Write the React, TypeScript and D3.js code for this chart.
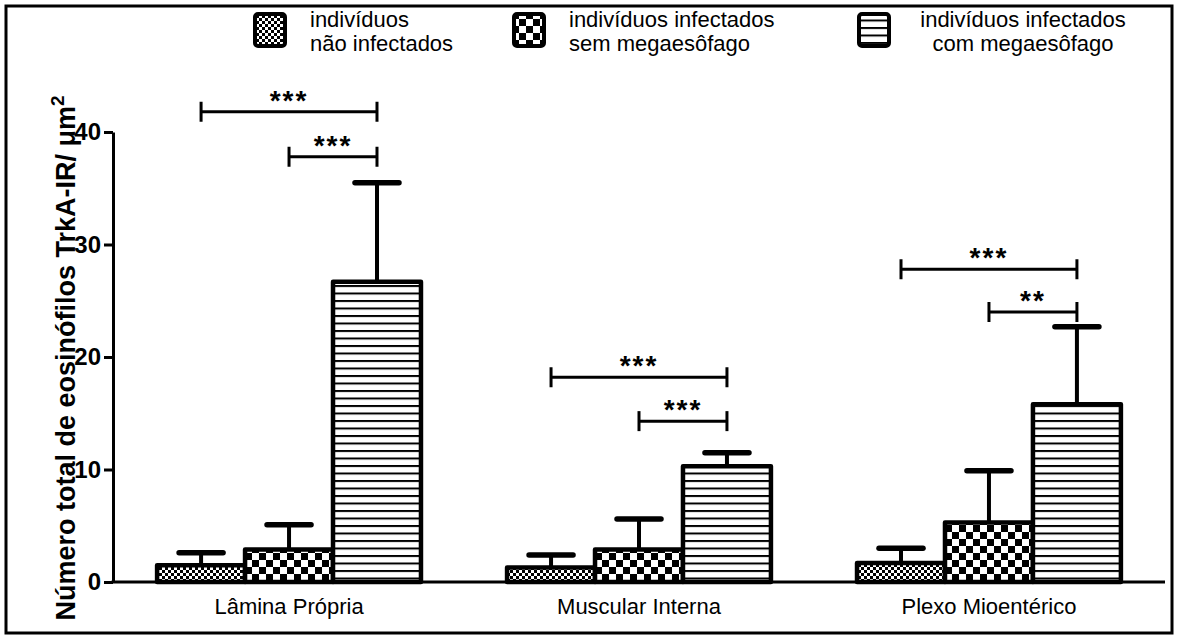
import { useEffect, useRef } from "react";
import * as d3 from "d3";

const categories = ["Lâmina Própria", "Muscular Interna", "Plexo Mioentérico"];
const seriesKeys = ["naoInfectados", "semMega", "comMega"];
const legendLines = [
  ["indivíduos", "não infectados"],
  ["indivíduos infectados", "sem megaesôfago"],
  ["indivíduos infectados", "com megaesôfago"],
];

// means per series, one value per category
const naoInfectados = [1.5, 1.3, 1.7];
const semMega = [2.9, 2.9, 5.3];
const comMega = [26.7, 10.3, 15.8];

// upper error (SEM) per series
const naoInfectadosErr = [1.1, 1.1, 1.3];
const semMegaErr = [2.2, 2.7, 4.6];
const comMegaErr = [8.8, 1.2, 6.9];

const yTicks = [0, 10, 20, 30, 40];

// significance brackets: category, from series, to series, level (y units), label
const sigCategory = [0, 0, 1, 1, 2, 2];
const sigFrom = [0, 1, 0, 1, 0, 1];
const sigTo = [2, 2, 2, 2, 2, 2];
const sigLevel = [41.8, 37.8, 18.2, 14.3, 27.8, 24.0];
const sigLabel = ["***", "***", "***", "***", "***", "**"];

const FONT = "'Liberation Sans', Arial, sans-serif";

export default function App() {
  const svgRef = useRef<SVGSVGElement>(null);

  useEffect(() => {
    if (!svgRef.current) return;
    const svg = d3.select(svgRef.current);
    svg.selectAll("*").remove();

    const width = 1178;
    const height = 639;
    const axisLeft = 113;
    const axisRight = 1165;

    const means = [naoInfectados, semMega, comMega];
    const errs = [naoInfectadosErr, semMegaErr, comMegaErr];

    // Patterns
    const defs = svg.append("defs");
    const fine = defs.append("pattern").attr("id", "pat0")
      .attr("patternUnits", "userSpaceOnUse").attr("width", 6).attr("height", 6);
    fine.append("rect").attr("width", 6).attr("height", 6).attr("fill", "#fff");
    fine.append("rect").attr("width", 3).attr("height", 3).attr("fill", "#000");
    fine.append("rect").attr("x", 3).attr("y", 3).attr("width", 3).attr("height", 3).attr("fill", "#000");

    const coarse = defs.append("pattern").attr("id", "pat1")
      .attr("patternUnits", "userSpaceOnUse").attr("width", 14).attr("height", 14);
    coarse.append("rect").attr("width", 14).attr("height", 14).attr("fill", "#fff");
    coarse.append("rect").attr("width", 7).attr("height", 7).attr("fill", "#000");
    coarse.append("rect").attr("x", 7).attr("y", 7).attr("width", 7).attr("height", 7).attr("fill", "#000");

    const lines = defs.append("pattern").attr("id", "pat2")
      .attr("patternUnits", "userSpaceOnUse").attr("width", 10).attr("height", 7.5);
    lines.append("rect").attr("width", 10).attr("height", 7.5).attr("fill", "#fff");
    lines.append("rect").attr("width", 10).attr("height", 2).attr("fill", "#000");

    svg.append("rect").attr("width", width).attr("height", height).attr("fill", "#fff");
    // frame
    svg.append("rect")
      .attr("x", 6).attr("y", 6).attr("width", 1166).attr("height", 627)
      .attr("fill", "none").attr("stroke", "#000").attr("stroke-width", 3);

    // Scales
    const x0 = d3.scaleBand<string>()
      .domain(categories)
      .range([axisLeft, axisRight])
      .paddingInner(0.246)
      .paddingOuter(0.126);
    const x1 = d3.scaleBand<string>()
      .domain(seriesKeys)
      .range([0, x0.bandwidth()])
      .padding(0);
    const y = d3.scaleLinear().domain([0, 40]).range([582, 132]);

    const barCenter = (c: number, s: number) =>
      (x0(categories[c]) as number) + (x1(seriesKeys[s]) as number) + x1.bandwidth() / 2;

    // Bars
    seriesKeys.forEach((key, s) => {
      categories.forEach((cat, c) => {
        const bx = (x0(cat) as number) + (x1(key) as number);
        const v = means[s][c];
        const top = y(v + errs[s][c]);
        const cx = bx + x1.bandwidth() / 2;
        // error bar (upper only)
        svg.append("line")
          .attr("x1", cx).attr("x2", cx)
          .attr("y1", y(v)).attr("y2", top)
          .attr("stroke", "#000").attr("stroke-width", 4);
        svg.append("line")
          .attr("x1", cx - 22).attr("x2", cx + 22)
          .attr("y1", top).attr("y2", top)
          .attr("stroke", "#000").attr("stroke-width", 5.5)
          .attr("stroke-linecap", "round");
        svg.append("rect")
          .attr("x", bx).attr("y", y(v))
          .attr("width", x1.bandwidth())
          .attr("height", y(0) - y(v))
          .attr("fill", `url(#pat${s})`)
          .attr("stroke", "#000").attr("stroke-width", 4.5)
          .attr("stroke-linejoin", "round");
      });
    });

    // Axes
    const yAxis = svg.append("g")
      .attr("transform", `translate(${axisLeft},0)`)
      .call(d3.axisLeft(y).tickValues(yTicks).tickSize(9).tickSizeOuter(0).tickPadding(3));
    yAxis.select(".domain").attr("stroke-width", 3);
    yAxis.selectAll(".tick line").attr("stroke-width", 3);
    yAxis.selectAll(".tick text")
      .attr("font-family", FONT).attr("font-size", 24).attr("font-weight", "bold").attr("fill", "#000");

    svg.append("line")
      .attr("x1", axisLeft - 1.5).attr("x2", axisRight)
      .attr("y1", y(0)).attr("y2", y(0))
      .attr("stroke", "#000").attr("stroke-width", 3);

    // Category labels
    categories.forEach((cat) => {
      svg.append("text")
        .attr("x", (x0(cat) as number) + x0.bandwidth() / 2)
        .attr("y", 614)
        .attr("text-anchor", "middle")
        .attr("font-family", FONT).attr("font-size", 22)
        .text(cat);
    });

    // Y label
    const yl = svg.append("text")
      .attr("transform", `translate(75,${358}) rotate(-90)`)
      .attr("text-anchor", "middle")
      .attr("font-family", FONT).attr("font-size", 27).attr("font-weight", "bold");
    yl.append("tspan").text("Número total de eosinófilos TrkA-IR/ μm");
    yl.append("tspan").attr("dy", -11).attr("font-size", 19).text("2");

    // Significance brackets
    sigLevel.forEach((lvl, i) => {
      const xa = barCenter(sigCategory[i], sigFrom[i]);
      const xb = barCenter(sigCategory[i], sigTo[i]);
      const yy = y(lvl);
      const g = svg.append("g").attr("stroke", "#000").attr("stroke-width", 3);
      g.append("line").attr("x1", xa).attr("x2", xb).attr("y1", yy).attr("y2", yy);
      g.append("line").attr("x1", xa).attr("x2", xa).attr("y1", yy - 10).attr("y2", yy + 10);
      g.append("line").attr("x1", xb).attr("x2", xb).attr("y1", yy - 10).attr("y2", yy + 10);
      svg.append("text")
        .attr("x", (xa + xb) / 2).attr("y", yy - 2)
        .attr("text-anchor", "middle")
        .attr("font-family", FONT).attr("font-size", 28).attr("font-weight", "bold")
        .attr("letter-spacing", 2)
        .text(sigLabel[i]);
    });

    // Legend
    const legendBoxX = [253, 512, 857];
    legendLines.forEach((ls, i) => {
      const lg = svg.append("g").attr("transform", `translate(${legendBoxX[i]},12)`);
      lg.append("rect")
        .attr("x", 2).attr("y", 2).attr("width", 30).attr("height", 32).attr("rx", 3)
        .attr("fill", `url(#pat${i})`).attr("stroke", "#000").attr("stroke-width", 4);
      const centered = i === 2;
      ls.forEach((t, j) => {
        lg.append("text")
          .attr("x", centered ? 166 : 57)
          .attr("y", 15 + j * 24)
          .attr("text-anchor", centered ? "middle" : "start")
          .attr("font-family", FONT).attr("font-size", 22)
          .text(t);
      });
    });
  }, []);

  return (
    <svg
      ref={svgRef}
      width={1178}
      height={639}
      style={{ position: "absolute", left: 0, top: 0, display: "block" }}
    />
  );
}
